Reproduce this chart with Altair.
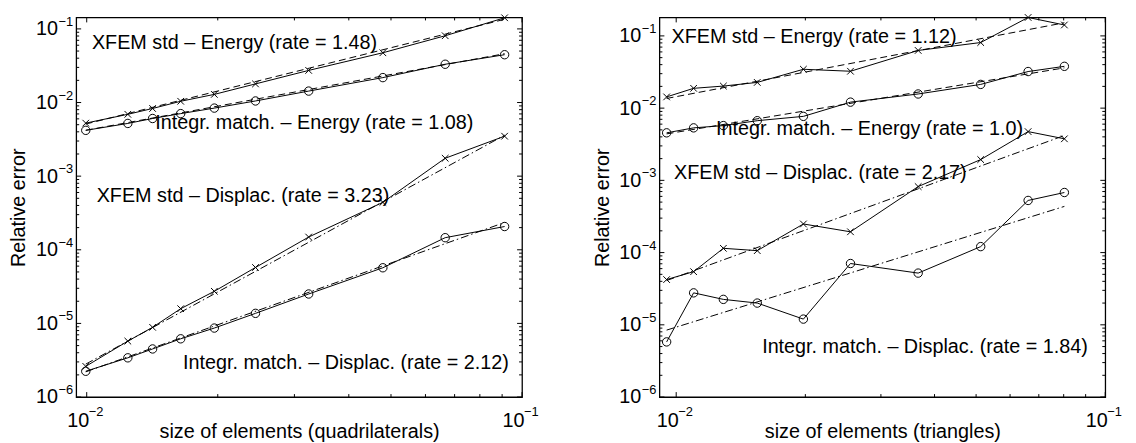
import altair as alt
import pandas as pd

FONT = "Liberation Sans"
W, H = 451, 384

# ---------------- left panel: quadrilaterals ----------------
Q_H = [0.00995, 0.01243, 0.01417, 0.01644, 0.01964, 0.02442, 0.03235, 0.0479, 0.0666, 0.0912]
Q_XFEM_ENERGY = [5.25e-3, 6.92e-3, 8.3e-3, 1.04e-2, 1.29e-2, 1.79e-2, 2.73e-2, 4.74e-2, 8.07e-2, 0.1415]
Q_INTEG_ENERGY = [4.19e-3, 5.2e-3, 6.07e-3, 7.07e-3, 8.4e-3, 1.05e-2, 1.43e-2, 2.18e-2, 3.31e-2, 4.46e-2]
Q_XFEM_DISPL = [2.61e-6, 5.75e-6, 8.85e-6, 1.585e-5, 2.73e-5, 5.75e-5, 1.49e-4, 4.41e-4, 1.75e-3, 3.49e-3]
Q_INTEG_DISPL = [2.24e-6, 3.41e-6, 4.5e-6, 6.18e-6, 8.65e-6, 1.37e-5, 2.51e-5, 5.7e-5, 1.46e-4, 2.07e-4]

Q_FIT_H = [0.00995, 0.0912]
Q_FIT_XFEM_ENERGY = [5.1e-3, 0.135]
Q_FIT_INTEG_ENERGY = [4.2e-3, 0.046]
Q_FIT_XFEM_DISPL = [2.8e-6, 3.6e-3]
Q_FIT_INTEG_DISPL = [2.2e-6, 2.35e-4]

Q_LABELS = ["XFEM std – Energy (rate = 1.48)",
            "Integr. match. – Energy (rate = 1.08)",
            "XFEM std – Displac. (rate = 3.23)",
            "Integr. match. – Displac. (rate = 2.12)"]
Q_LABEL_X = [0.01028, 0.01437, 0.01054, 0.01664]
Q_LABEL_Y = [0.0525, 4.41e-3, 4.5e-4, 2.44e-6]
Q_XDOMAIN = [0.00946, 0.1]
Q_YDOMAIN = [1e-6, 0.143]
Q_XTITLE = "size of elements (quadrilaterals)"

# ---------------- right panel: triangles ----------------
T_H = [0.00950, 0.01098, 0.01288, 0.01545, 0.01979, 0.02548, 0.03664, 0.05125, 0.0661, 0.0803]
T_XFEM_ENERGY = [1.43e-2, 1.88e-2, 2.02e-2, 2.27e-2, 3.45e-2, 3.24e-2, 6.29e-2, 8.09e-2, 0.180, 0.1416]
T_INTEG_ENERGY = [4.55e-3, 5.33e-3, 5.73e-3, 6.70e-3, 7.69e-3, 1.21e-2, 1.57e-2, 2.13e-2, 3.21e-2, 3.79e-2]
T_XFEM_DISPL = [4.23e-5, 5.44e-5, 1.146e-4, 1.064e-4, 2.49e-4, 1.94e-4, 8.2e-4, 1.94e-3, 4.73e-3, 3.76e-3]
T_INTEG_DISPL = [5.8e-6, 2.77e-5, 2.25e-5, 2.0e-5, 1.2e-5, 7.06e-5, 5.2e-5, 1.21e-4, 5.27e-4, 6.79e-4]

T_FIT_H = [0.0095, 0.0803]
T_FIT_XFEM_ENERGY = [1.36e-2, 0.152]
T_FIT_INTEG_ENERGY = [4.4e-3, 3.61e-2]
T_FIT_XFEM_DISPL = [4.1e-5, 4.18e-3]
T_FIT_INTEG_DISPL = [8.45e-6, 4.36e-4]

T_LABELS = ["XFEM std – Energy (rate = 1.12)",
            "Integr. match. – Energy (rate = 1.0)",
            "XFEM std – Displac. (rate = 2.17)",
            "Integr. match. – Displac. (rate = 1.84)"]
T_LABEL_X = [0.00975, 0.01238, 0.00988, 0.01586]
T_LABEL_Y = [0.0794, 4.18e-3, 1.06e-3, 4.04e-6]
T_XDOMAIN = [0.00914, 0.1]
T_YDOMAIN = [1e-6, 0.18]
T_XTITLE = "size of elements (triangles)"

# ---------------- shared ----------------
SERIES = ["xfem_energy", "integ_energy", "xfem_displ", "integ_displ"]
MARKERS = ["x", "o", "x", "o"]
FIT_STYLE = ["energy", "energy", "displ", "displ"]

Y_MAJOR = [1e-6, 1e-5, 1e-4, 1e-3, 1e-2, 1e-1]
Y_EXP = ["−6", "−5", "−4", "−3", "−2", "−1"]
Y_MINOR = [m * 10.0 ** k for k in range(-6, 0) for m in range(2, 10)]
X_MAJOR = [1e-2, 1e-1]
X_EXP = ["−2", "−1"]
X_MINOR = [m * 10.0 ** k for k in (-3, -2) for m in range(2, 10)]

XPATH = "M-1,-1L1,1M-1,1L1,-1"


def panel(hs, ys, fit_h, fit_ys, labels, lab_x, lab_y, xdom, ydom, xtitle):
    pts = pd.DataFrame([
        {"h": h, "err": e, "series": s, "marker": m}
        for s, m, vals in zip(SERIES, MARKERS, ys)
        for h, e in zip(hs, vals)
    ])
    fits = pd.DataFrame([
        {"h": h, "err": e, "series": s, "style": st}
        for s, st, vals in zip(SERIES, FIT_STYLE, fit_ys)
        for h, e in zip(fit_h, vals)
    ])
    labs = pd.DataFrame({"h": lab_x, "err": lab_y, "text": labels})

    xs = alt.Scale(type="log", domain=xdom, nice=False, zero=False)
    ysc = alt.Scale(type="log", domain=ydom, nice=False, zero=False)

    xaxis = alt.Axis(values=X_MAJOR, labelExpr="'10'", labelAlign="right", labelOffset=2,
                     labelBaseline="top", labelPadding=14, ticks=False, tickSize=0,
                     labelFlush=False, labelOverlap=False, labelBound=False,
                     labelFont=FONT, labelFontSize=20, labelColor="black",
                     domain=False, grid=False,
                     title=xtitle, titleFont=FONT, titleFontSize=20, titleFontWeight="normal",
                     titleColor="black", titleX=W / 2, titleY=35, titleAlign="center",
                     titleBaseline="middle")
    yaxis = alt.Axis(values=Y_MAJOR, labelExpr="'10'", labelAlign="right", labelBaseline="middle",
                     labelPadding=19, ticks=False, tickSize=0,
                     labelFlush=False, labelOverlap=False, labelBound=False,
                     labelFont=FONT, labelFontSize=20, labelColor="black",
                     domain=False, grid=False,
                     title="Relative error", titleFont=FONT, titleFontSize=20,
                     titleFontWeight="normal", titleColor="black", titleX=-58, titleY=H / 2,
                     titleAngle=270, titleAlign="center", titleBaseline="middle")

    def X(field="h"):
        return alt.X(f"{field}:Q", scale=xs, axis=xaxis, title=xtitle)

    def Y(field="err"):
        return alt.Y(f"{field}:Q", scale=ysc, axis=yaxis, title="Relative error")

    lines = alt.Chart(pts).mark_line(color="black", strokeWidth=1).encode(
        x=X(), y=Y(), detail="series:N", order="h:Q")
    fitl = alt.Chart(fits).mark_line(color="black", strokeWidth=1).encode(
        x=X(), y=Y(), detail="series:N",
        strokeDash=alt.StrokeDash("style:N", scale=alt.Scale(domain=["energy", "displ"],
                                  range=[[7, 4], [8, 3, 1.5, 3]]), legend=None))
    xm = alt.Chart(pts).transform_filter(alt.datum.marker == "x").mark_point(
        shape=XPATH, size=45, color="black", strokeWidth=1, filled=False, opacity=1).encode(x=X(), y=Y())
    om = alt.Chart(pts).transform_filter(alt.datum.marker == "o").mark_point(
        shape="circle", size=72, color="black", strokeWidth=1, filled=False, opacity=1).encode(x=X(), y=Y())
    text = alt.Chart(labs).mark_text(align="left", baseline="alphabetic", font=FONT,
                                     fontSize=20, color="black").encode(x=X(), y=Y(), text="text:N")

    layers = [lines, fitl, xm, om, text]

    # inward ticks on all four sides
    for vals, L in [(Y_MAJOR, 5), (Y_MINOR, 3)]:
        df = pd.DataFrame({"err": [v for v in vals if ydom[0] <= v <= ydom[1]]})
        base = alt.Chart(df).mark_rule(color="black", strokeWidth=1)
        layers.append(base.encode(y=Y(), x=alt.value(0), x2=alt.value(L)))
        layers.append(base.encode(y=Y(), x=alt.value(W - L), x2=alt.value(W)))
    for vals, L in [(X_MAJOR, 5), (X_MINOR, 3)]:
        df = pd.DataFrame({"h": [v for v in vals if xdom[0] <= v <= xdom[1]]})
        base = alt.Chart(df).mark_rule(color="black", strokeWidth=1)
        layers.append(base.encode(x=X(), y=alt.value(H - L), y2=alt.value(H)))
        layers.append(base.encode(x=X(), y=alt.value(0), y2=alt.value(L)))

    # exponents of tick labels
    yexp = alt.Chart(pd.DataFrame({"err": Y_MAJOR, "e": Y_EXP})).mark_text(
        align="left", baseline="middle", font=FONT, fontSize=13, dy=-7, color="black").encode(
        y=Y(), x=alt.value(-18), text="e:N")
    xexp = alt.Chart(pd.DataFrame({"h": X_MAJOR, "e": X_EXP})).mark_text(
        align="left", baseline="middle", font=FONT, fontSize=13, dx=2, color="black").encode(
        x=X(), y=alt.value(H + 15.5), text="e:N")
    layers += [yexp, xexp]

    return alt.layer(*layers).properties(width=W, height=H)


left = panel(Q_H, [Q_XFEM_ENERGY, Q_INTEG_ENERGY, Q_XFEM_DISPL, Q_INTEG_DISPL],
             Q_FIT_H, [Q_FIT_XFEM_ENERGY, Q_FIT_INTEG_ENERGY, Q_FIT_XFEM_DISPL, Q_FIT_INTEG_DISPL],
             Q_LABELS, Q_LABEL_X, Q_LABEL_Y, Q_XDOMAIN, Q_YDOMAIN, Q_XTITLE)
right = panel(T_H, [T_XFEM_ENERGY, T_INTEG_ENERGY, T_XFEM_DISPL, T_INTEG_DISPL],
              T_FIT_H, [T_FIT_XFEM_ENERGY, T_FIT_INTEG_ENERGY, T_FIT_XFEM_DISPL, T_FIT_INTEG_DISPL],
              T_LABELS, T_LABEL_X, T_LABEL_Y, T_XDOMAIN, T_YDOMAIN, T_XTITLE)

chart = alt.hconcat(left, right, spacing=139, bounds="flush").properties(
    padding={"left": 0, "top": 0, "right": 5, "bottom": 5}
).configure(background="white").configure_view(stroke="black", strokeWidth=1.3)

chart.save("out.html", embed_options={"renderer": "svg", "actions": False})
